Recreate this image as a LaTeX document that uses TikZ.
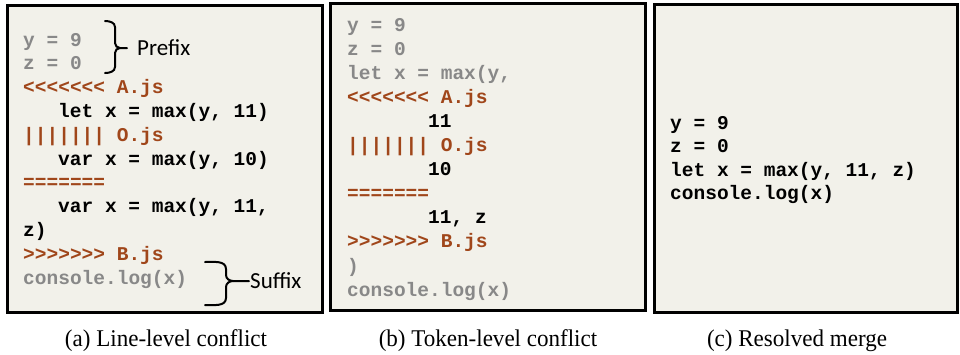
\documentclass[tikz,border=0pt]{standalone}
\usepackage{fontspec}
\setmainfont{Liberation Serif}
\newfontfamily\codefam{Liberation Mono}
\newfontfamily\labfam{Carlito}
\definecolor{panelbg}{HTML}{F2F1EA}
\definecolor{codegray}{HTML}{888888}
\definecolor{codebrown}{HTML}{A0461A}
\begin{document}
\begin{tikzpicture}[x=1pt,y=-1pt,
  panel/.style={draw=black,line width=3pt,fill=panelbg},
  codetext/.style={anchor=base west,inner sep=0pt,font=\codefam\bfseries\fontsize{19.5}{23}\selectfont},
  ctx/.style={codetext,text=codegray},
  cmark/.style={codetext,text=codebrown},
  src/.style={codetext,text=black},
  lab/.style={anchor=base west,inner sep=0pt,font=\labfam\fontsize{23}{26}\selectfont},
  figcap/.style={anchor=base,inner sep=0pt,xscale=0.96,transform shape,font=\fontsize{24}{27}\selectfont},
  bracepath/.style={line width=2pt,line cap=round}]
\useasboundingbox (0,0) rectangle (960,354);
% panels
\draw[panel] (7.5,5) rectangle (322,312);
\draw[panel] (330.5,3.5) rectangle (645,310.5);
\draw[panel] (654.5,4.5) rectangle (957.5,312.5);
% panel (a)
\node[ctx]  (a1)  at (23,46)    {y = 9};
\node[ctx]  (a2)  at (23,69.8)  {z = 0};
\node[cmark] (a3)  at (23,93.6)  {<<<<<<< A.js};
\node[src]  (a4)  at (58,117.4) {let x = max(y, 11)};
\node[cmark] (a5)  at (23,141.2) {||||||| O.js};
\node[src]  (a6)  at (58,165)   {var x = max(y, 10)};
\node[cmark] (a7)  at (23,188.8) {=======};
\node[src]  (a8)  at (58,212.6) {var x = max(y, 11,};
\node[src]  (a9)  at (23,236.4) {z)};
\node[cmark] (a10) at (23,260.2) {>>>>>>> B.js};
\node[ctx]  (a11) at (23,284)   {console.log(x)};
% braces
\coordinate (pt) at (105,21);
\coordinate (pb) at (105,73);
\coordinate (ptip) at (127,48);
\draw[bracepath] (pt) to[out=0,in=90] (115,27) -- (115,43) to[out=-90,in=180] (120,48) -- (ptip);
\draw[bracepath] (pb) to[out=0,in=-90] (115,67) -- (115,53) to[out=90,in=180] (120,48);
\node[lab] (prefix) at (137,55) {Prefix};
\coordinate (st) at (205,262);
\coordinate (sb) at (205,305);
\coordinate (stip) at (249,281);
\draw[bracepath] (st) to[out=0,in=90] (226,269) -- (226,275) to[out=-90,in=180] (233,281) -- (stip);
\draw[bracepath] (sb) to[out=0,in=-90] (226,298) -- (226,287) to[out=90,in=180] (233,281);
\node[lab] (suffix) at (250,288) {Suffix};
% panel (b)
\node[ctx]  (b1)  at (347,31)    {y = 9};
\node[ctx]  (b2)  at (347,55.1)  {z = 0};
\node[ctx]  (b3)  at (347,79.2)  {let x = max(y,};
\node[cmark] (b4)  at (347,103.3) {<<<<<<< A.js};
\node[src]  (b5)  at (428,127.4) {11};
\node[cmark] (b6)  at (347,151.5) {||||||| O.js};
\node[src]  (b7)  at (428,175.6) {10};
\node[cmark] (b8)  at (347,199.7) {=======};
\node[src]  (b9)  at (428,223.8) {11, z};
\node[cmark] (b10) at (347,247.9) {>>>>>>> B.js};
\node[ctx]  (b11) at (347,272)   {)};
\node[ctx]  (b12) at (347,296.1) {console.log(x)};
% panel (c)
\node[src] (c1) at (670,129)   {y = 9};
\node[src] (c2) at (670,152.5) {z = 0};
\node[src] (c3) at (670,176)   {let x = max(y, 11, z)};
\node[src] (c4) at (670,199.5) {console.log(x)};
% captions
\node[figcap] (capa) at (166,346.5) {(a) Line-level conflict};
\node[figcap] (capb) at (488,346.5) {(b) Token-level conflict};
\node[figcap] (capc) at (797,346.5) {(c) Resolved merge};
\end{tikzpicture}
\end{document}
